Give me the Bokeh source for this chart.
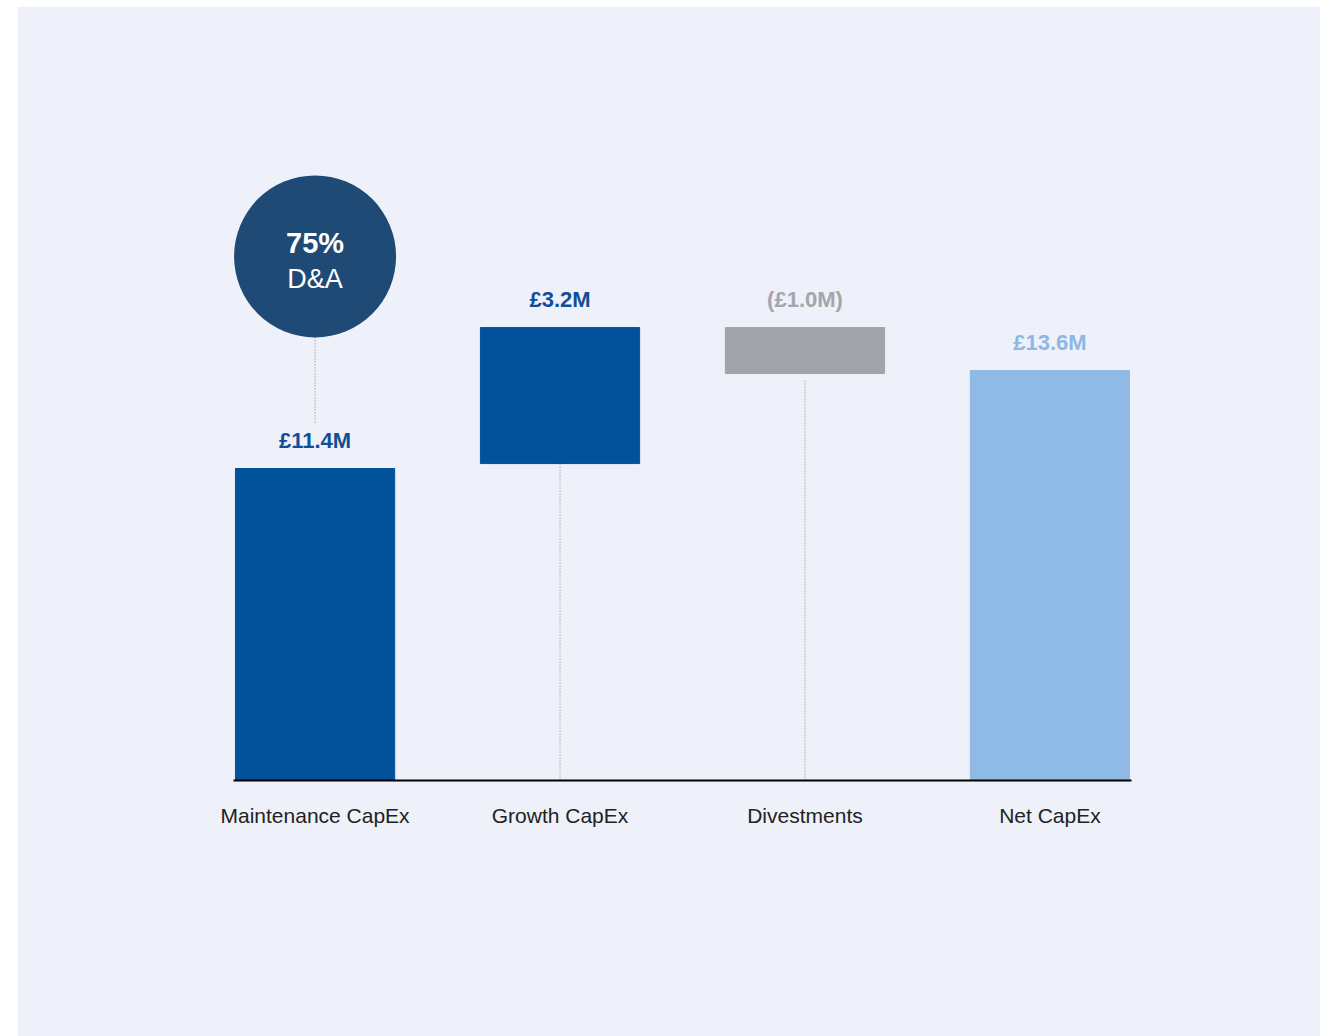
from bokeh.plotting import figure
from bokeh.models import ColumnDataSource, Range1d, FixedTicker
from bokeh.core.properties import value
from bokeh.embed import file_html
from bokeh.resources import INLINE

# ---- data ----
categories = ["Maintenance CapEx", "Growth CapEx", "Divestments", "Net CapEx"]
value_labels = ["£11.4M", "£3.2M", "(£1.0M)", "£13.6M"]
bar_bottom = [0.0, 11.58, 16.55, 0.0]
bar_top = [11.4, 16.55, 14.87, 14.98]
bar_colors = ["#01519B", "#01519B", "#A1A4AB", "#8FBAE5"]
label_colors = ["#0F4F98", "#0F4F98", "#A3A6AD", "#8DB8E3"]
badge_value = ["75%"]
badge_text = ["D&A"]
badge_y = [19.15]

PANEL = "#EEF1F9"
FONT = "Liberation Sans"
PX = 312 / 11.4  # screen px per data unit

xs = list(range(len(categories)))

p = figure(width=1303, height=1030, output_backend="svg", toolbar_location=None,
           x_range=Range1d(-0.333, 3.333), y_range=Range1d(0, 680 / PX),
           min_border_left=216, min_border_right=189, min_border_top=94,
           min_border_bottom=256, margin=(6, 0, 0, 17))
p.background_fill_color = PANEL
p.border_fill_color = PANEL
p.outline_line_color = PANEL
p.outline_line_width = 2
p.grid.visible = False
p.yaxis.visible = False

src = ColumnDataSource(dict(
    x=xs, cat=categories, bottom=bar_bottom, top=bar_top, color=bar_colors,
    lab=value_labels, lcolor=label_colors,
    ly=[max(b, t) + 28 / PX for b, t in zip(bar_bottom, bar_top)],
))

# dotted connectors
conn_x = [0, 1, 2]
conn_y0 = [badge_y[0] - 81 / PX, bar_bottom[1], min(bar_bottom[2], bar_top[2]) - 7 / PX]
conn_y1 = [bar_top[0] + 44 / PX, 0, 0]
p.segment(x0=conn_x, x1=conn_x, y0=conn_y0, y1=conn_y1,
          line_color="#808080", line_width=1, line_dash="1 2")

p.vbar(x="x", bottom="bottom", top="top", width=0.65, color="color", source=src)

p.text(x="x", y="ly", text="lab", text_color="lcolor", source=src,
       text_font=value(FONT), text_font_style="bold", text_font_size="22px",
       text_align="center", text_baseline="middle")

# badge circle
p.scatter(x=[0], y=badge_y, size=162, marker="circle",
          fill_color="#1E4A75", line_color=None)
p.text(x=[0], y=[badge_y[0] + 13 / PX], text=badge_value, text_color="white",
       text_font=value(FONT), text_font_style="bold", text_font_size="29px",
       text_align="center", text_baseline="middle")
p.text(x=[0], y=[badge_y[0] - 23 / PX], text=badge_text, text_color="white",
       text_font=value(FONT), text_font_size="27px",
       text_align="center", text_baseline="middle")

ax = p.xaxis[0]
ax.ticker = FixedTicker(ticks=xs)
ax.major_label_overrides = {i: c for i, c in zip(xs, categories)}
ax.axis_line_color = "black"
ax.axis_line_width = 2
ax.major_tick_line_color = None
ax.minor_tick_line_color = None
ax.major_label_text_font = FONT
ax.major_label_text_font_size = "21px"
ax.major_label_text_color = "#222222"
ax.major_label_standoff = 17

open("out.html", "w").write(file_html(p, INLINE))
